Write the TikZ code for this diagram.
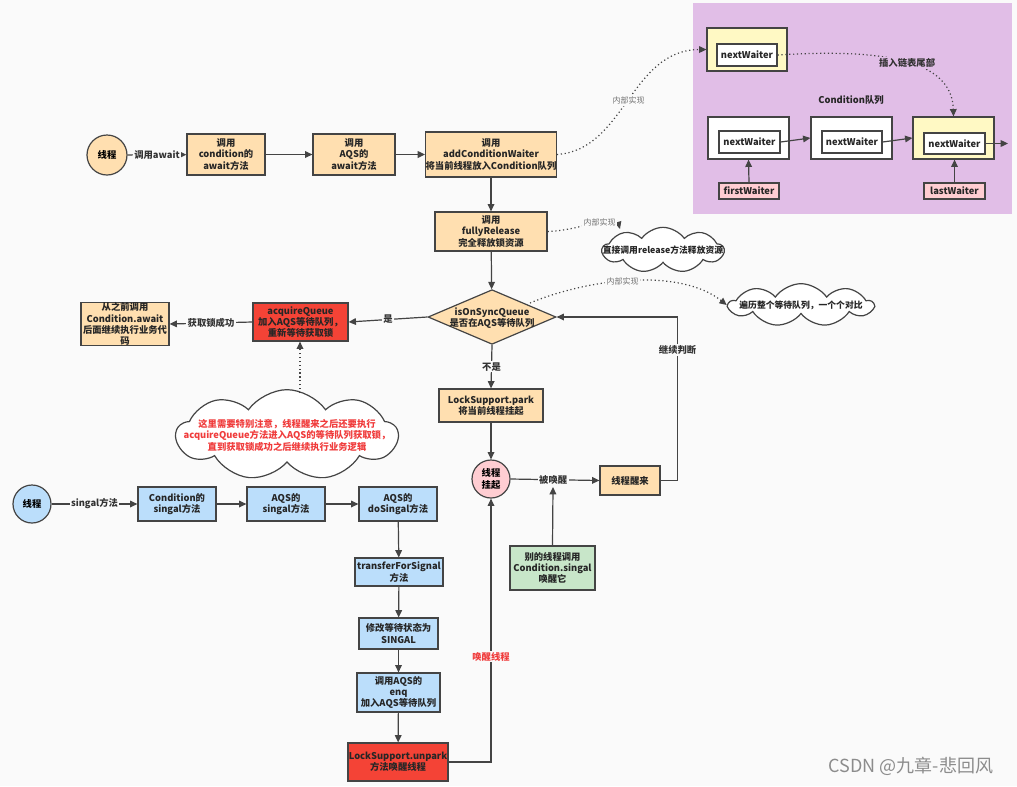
\documentclass[tikz,border=0pt]{standalone}
\usepackage{fontspec}
\setmainfont{Noto Sans CJK SC}
\usetikzlibrary{arrows.meta,shapes.geometric,shapes.symbols}
\definecolor{bg}{HTML}{FAFAFA}
\definecolor{orangef}{HTML}{FFDFB0}
\definecolor{bluef}{HTML}{BBDEFB}
\definecolor{greenf}{HTML}{C8E6C9}
\definecolor{pinkf}{HTML}{FFCDD2}
\definecolor{redf}{HTML}{F44336}
\definecolor{yellowf}{HTML}{FFF9C4}
\definecolor{purplef}{HTML}{E1BEE7}
\definecolor{edgec}{HTML}{444444}
\definecolor{redt}{HTML}{F03C3C}
\newcommand\rbox[7]{\node[#6, minimum width={(#4-#2)*0.75pt}, minimum height={(#5-#3)*0.75pt}] (#1) at ({(#2+#4)/2},{(#3+#5)/2}) {#7};}
\tikzset{
  bx/.style={draw=edgec, line width=0.9pt, inner sep=0pt, align=center, text=black!85, font=\fontsize{7}{8.4}\selectfont\bfseries},
  ob/.style={bx, fill=orangef},
  bb/.style={bx, fill=bluef},
  rb/.style={bx, fill=redf},
  gb/.style={bx, fill=greenf},
  pb/.style={bx, fill=pinkf},
  yb/.style={bx, fill=yellowf},
  wb/.style={bx, fill=white},
  cb/.style={circle, draw=edgec, line width=0.9pt, inner sep=0pt, minimum size=29pt, align=center, font=\fontsize{7}{8.4}\selectfont\bfseries},
  ln/.style={draw=edgec, line width=0.9pt, -{Triangle[length=5.5pt,width=5pt]}},
  dln/.style={draw=edgec, line width=0.9pt, dotted, -{Triangle[length=5.5pt,width=5pt]}},
  lab/.style={fill=bg, inner sep=1pt, text=black!80, font=\fontsize{7}{8}\selectfont\bfseries},
  glab/.style={fill=bg, inner sep=1pt, text=black!55, font=\fontsize{6}{7}\selectfont},
  cld/.style={cloud, cloud puffs=9, cloud puff arc=110, draw=edgec, line width=0.9pt, fill=white, inner sep=0pt},
  cldt/.style={inner sep=0pt, text=black!85, font=\fontsize{6.6}{8}\selectfont\bfseries},
}
\begin{document}
\begin{tikzpicture}[x=0.75pt,y=-0.75pt]
\useasboundingbox (0,0) rectangle (1017,786);
\fill[bg] (0,0) rectangle (1017,786);
% purple region
\fill[purplef] (693,3) rectangle (1012,214);

% ===== top flow =====
\node[cb, fill=orangef, minimum size=30pt] (th1) at (107,155) {线程};
\rbox{b1}{187}{134}{265}{175}{ob}{调用\\condition的\\await方法}
\rbox{b2}{313}{134}{395}{175}{ob}{调用\\AQS的\\await方法}
\rbox{b3}{427}{132}{555}{177}{ob}{调用\\addConditionWaiter\\将当前线程放入Condition队列}
\rbox{fr}{435}{212}{547}{251}{ob}{调用\\fullyRelease\\完全释放锁资源}
\node[diamond, draw=edgec, line width=0.9pt, fill=orangef, inner sep=0pt, minimum width=96pt, minimum height=41pt] (dq) at (492,317) {};
\node[align=center, inner sep=0pt, text=black!85, font=\fontsize{7}{8.6}\selectfont\bfseries] (dqt) at (492,318) {isOnSyncQueue\\是否在AQS等待队列};
\rbox{aq}{253}{303}{348}{341}{rb}{acquireQueue\\加入AQS等待队列，\\重新等待获取锁}
\rbox{prev}{81}{303}{169}{345}{ob}{从之前调用\\Condition.await\\后面继续执行业务代\\码}
\rbox{park}{439}{389}{543}{422}{ob}{LockSupport.park\\将当前线程挂起}
\node[cb, fill=pinkf, minimum size=28.5pt] (hang) at (491,479) {线程\\挂起};
\rbox{wake}{600}{466}{660}{495}{ob}{线程醒来}
\rbox{other}{510}{546}{595}{590}{gb}{别的线程调用\\Condition.singal\\唤醒它}

% clouds
\node[cld, minimum width=91pt, minimum height=34pt] (c1) at (663,250) {};
\node[cldt] (c1t) at (c1) {直接调用release方法释放资源};
\node[cld, minimum width=108pt, minimum height=32pt] (c2) at (801,305) {};
\node[cldt] (c2t) at (c2) {遍历整个等待队列，一个个对比};
\node[cld, minimum width=166pt, minimum height=68pt] (c3) at (287,435) {};
\node[inner sep=0pt, align=center, text=redt, font=\fontsize{7}{8.6}\selectfont\bfseries] (c3t) at (c3) {这里需要特别注意，线程醒来之后还要执行\\acquireQueue方法进入AQS的等待队列获取锁，\\直到获取锁成功之后继续执行业务逻辑};

% ===== bottom flow =====
\node[cb, fill=bluef, minimum size=28.5pt] (th2) at (32,504) {线程};
\rbox{s1}{138}{487}{216}{521}{bb}{Condition的\\singal方法}
\rbox{s2}{247}{487}{325}{521}{bb}{AQS的\\singal方法}
\rbox{s3}{359}{487}{437}{521}{bb}{AQS的\\doSingal方法}
\rbox{s4}{355}{558}{443}{586}{bb}{transferForSignal\\方法}
\rbox{s5}{359}{618}{438}{649}{bb}{修改等待状态为\\SINGAL}
\rbox{s6}{357}{673}{440}{712}{bb}{调用AQS的\\enq\\加入AQS等待队列}
\rbox{s7}{348}{743}{448}{781}{rb}{LockSupport.unpark\\方法唤醒线程}

% ===== purple region content =====
\rbox{yo}{707}{28}{787}{71}{yb}{}
\rbox{yi}{717}{44}{777}{66}{wb}{nextWaiter}
\node[inner sep=0pt, text=black!85, font=\fontsize{7}{8}\selectfont\bfseries] (qtitle) at (851,100) {Condition队列};
\rbox{qA}{708}{117}{789}{159}{wb}{}
\rbox{qAi}{719}{131}{780}{153}{wb}{nextWaiter}
\rbox{qB}{811}{117}{892}{159}{wb}{}
\rbox{qBi}{822}{131}{882}{153}{wb}{nextWaiter}
\rbox{qC}{913}{117}{994}{159}{yb}{}
\rbox{qCi}{924}{133}{985}{154}{wb}{nextWaiter}
\rbox{fw}{719}{183}{779}{199}{pb}{firstWaiter}
\rbox{lw}{924}{183}{985}{199}{pb}{lastWaiter}
\coordinate (qout) at (1008,143.5);
\coordinate (wk) at (553,487);
\coordinate (c3top) at (300,393);

% ===== connectors =====
\draw[ln] (th1) -- node[lab] {调用await} (b1);
\draw[ln] (b1) -- (b2);
\draw[ln] (b2) -- (b3);
\draw[ln] (b3) -- (fr);
\draw[ln] (fr) -- (dq);
\draw[ln] (dq.west) -- node[lab] {是} (aq.east);
\draw[ln] (aq.west) -- node[lab] {获取锁成功} (prev.east);
\draw[ln] (dq.south) -- node[lab] {不是} (park.north);
\draw[ln] (park) -- (hang);
\draw[ln] (hang.east) -- node[lab, pos=0.48] {被唤醒} (wake.west);
\draw[ln] (other.north) -- (wk);
\draw[ln] (wake.east) -- ++(17,0) |- node[lab, pos=0.4] {继续判断} (dq.east);

\draw[ln] (th2) -- node[lab] {singal方法} (s1);
\draw[ln] (s1) -- (s2);
\draw[ln] (s2) -- (s3);
\draw[ln] (s3) -- (s4);
\draw[ln] (s4) -- (s5);
\draw[ln] (s5) -- (s6);
\draw[ln] (s6) -- (s7);
\draw[ln] (s7.east) -| node[lab, pos=0.7, text=redt] {唤醒线程} (hang.south);

\draw[ln] (qAi.east) -- (qB.west);
\draw[ln] (qBi.east) -- (qC.west);
\draw[ln] (qCi.east) -- (qout);
\draw[ln] (fw.north) -- (qA.south);
\draw[ln] (lw.north) -- (lw.north |- qC.south);

% dotted connectors
\draw[dln] (b3.east) .. controls (625,150) and (630,50) .. node[glab, pos=0.5] {内部实现} (yo.west);
\draw[dln] (yi.east) .. controls (890,48) and (952,62) .. node[lab, fill=purplef, pos=0.5] {插入链表尾部} (qC.north);
\draw[dln] (fr.east) .. controls (585,230) and (615,212) .. node[glab, pos=0.55] {内部实现} (620,229);
\draw[dln] (530,303) .. controls (590,278) and (680,268) .. node[glab, pos=0.45] {内部实现} (c2.west);
\draw[dln] (c3top) -- (aq.south -| c3top);

% watermark
\node[text=black!45, font=\fontsize{13.5}{15}\selectfont] (wm) at (911,766) {CSDN @九章-悲回风};
\end{tikzpicture}
\end{document}
